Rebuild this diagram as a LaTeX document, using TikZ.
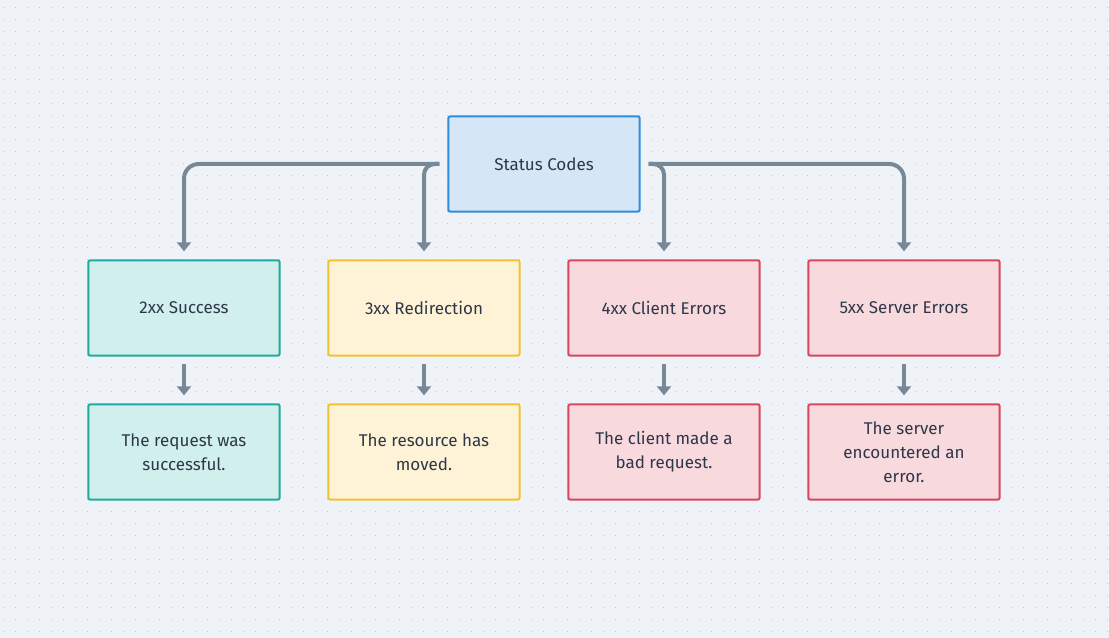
\documentclass[tikz,border=0pt]{standalone}
\usepackage{fontspec}
\setmainfont{Fira Sans}
\usetikzlibrary{arrows.meta}
\definecolor{bg}{HTML}{EFF3F7}
\definecolor{dotc}{HTML}{C0C5CC}
\definecolor{txt}{HTML}{2D3748}
\definecolor{linec}{HTML}{778898}
\definecolor{bluef}{HTML}{D5E6F6}
\definecolor{blued}{HTML}{2F8CDB}
\definecolor{tealf}{HTML}{D1EFEC}
\definecolor{teald}{HTML}{1EAB9B}
\definecolor{yelf}{HTML}{FEF3D6}
\definecolor{yeld}{HTML}{F4C132}
\definecolor{redf}{HTML}{F8D9DE}
\definecolor{redd}{HTML}{D8475E}
\tikzset{
  box/.style={draw, rounded corners=1.5pt, line width=1.5pt, minimum width=143.5pt,
    minimum height=71.5pt, inner sep=0pt, text=txt, align=center,
    font=\fontsize{12.75}{18}\selectfont},
  bluebox/.style={box, fill=bluef, draw=blued},
  tealbox/.style={box, fill=tealf, draw=teald},
  yelbox/.style={box, fill=yelf, draw=yeld},
  redbox/.style={box, fill=redf, draw=redd},
  conn/.style={draw=linec, line width=3pt, -{Triangle[width=10.5pt,length=6.75pt]}},
}
\begin{document}
\begin{tikzpicture}[x=0.75pt,y=-0.75pt]
\fill[bg] (0,0) rectangle (1109,638);
\useasboundingbox (0,0) rectangle (1109,638);
\foreach \x in {3,15,...,1107}{
  \foreach \y in {7,19,...,637}{
    \fill[dotc] (\x,\y) rectangle +(1.3,1.3);
  }
}
\node[bluebox] (root) at (544,164) {Status Codes};
\node[tealbox] (s2) at (184,308) {2xx Success};
\node[yelbox] (s3) at (424,308) {3xx Redirection};
\node[redbox] (s4) at (664,308) {4xx Client Errors};
\node[redbox] (s5) at (904,308) {5xx Server Errors};
\node[tealbox] (d2) at (184,452) {The request was\\successful.};
\node[yelbox] (d3) at (424,452) {The resource has\\moved.};
\node[redbox] (d4) at (664,452) {The client made a\\bad request.};
\node[redbox] (d5) at (904,452) {The server\\encountered an\\error.};
\coordinate (rl) at ([xshift=-6pt]root.west);
\coordinate (rr) at ([xshift=6pt]root.east);
\draw[conn, rounded corners=11pt, shorten >=6pt] (rl) -| (s2.north);
\draw[conn, rounded corners=8pt, shorten >=6pt] (rl) -| (s3.north);
\draw[conn, rounded corners=8pt, shorten >=6pt] (rr) -| (s4.north);
\draw[conn, rounded corners=11pt, shorten >=6pt] (rr) -| (s5.north);
\foreach \a/\b in {s2/d2,s3/d3,s4/d4,s5/d5}{
  \draw[conn, shorten <=5.5pt, shorten >=6pt] (\a.south) -- (\b.north);
}
\end{tikzpicture}
\end{document}
